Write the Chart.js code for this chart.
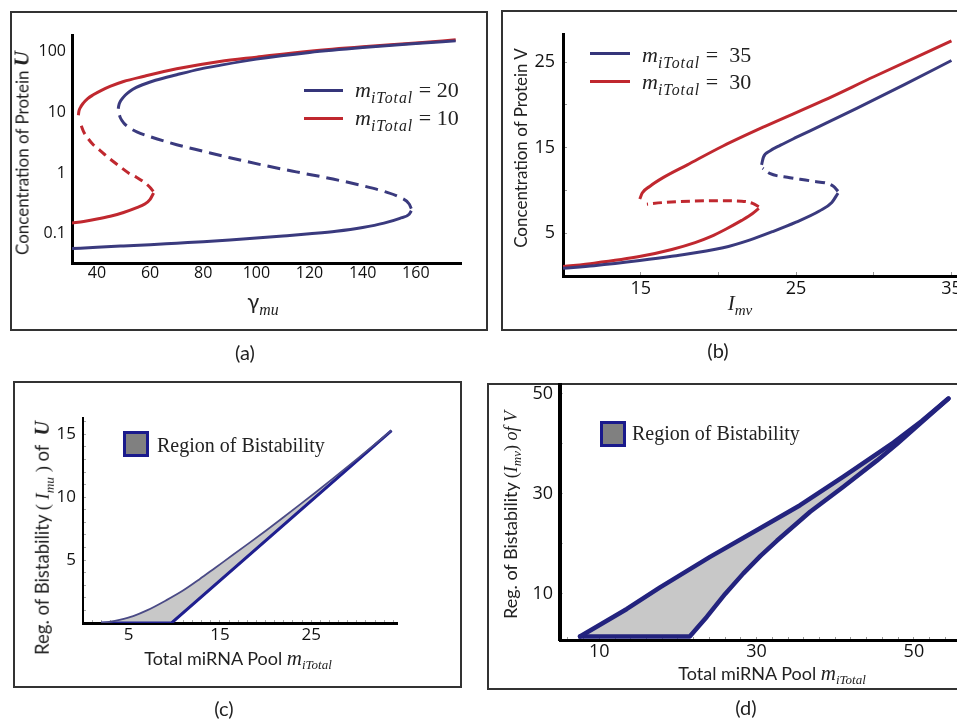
<!DOCTYPE html>
<html><head><meta charset="utf-8">
<script src="https://cdn.jsdelivr.net/npm/chart.js@4.4.1/dist/chart.umd.min.js"></script>
<style>
html,body{margin:0;padding:0;width:957px;height:720px;overflow:hidden;background:#fff;position:relative;}
.box{position:absolute;border:2px solid #333;box-sizing:border-box;}
canvas{position:absolute;}
.t{position:absolute;white-space:nowrap;color:#222;font-family:Lato,'Open Sans',sans-serif;line-height:1;}
.c{transform:translate(-50%,-50%);}
.r{transform:translate(-50%,-50%) rotate(-90deg);}
.l{transform:translate(0,-50%);}
.s{font-family:'Liberation Serif','DejaVu Serif',serif;}
sub{font-size:72%;vertical-align:-0.35em;line-height:0;}
.ln{position:absolute;height:3px;}
.sq{position:absolute;width:26px;height:26px;box-sizing:border-box;background:#808080;border:3px solid #1a1a8c;}
</style></head><body>

<div class="box" style="left:10px;top:11px;width:478px;height:320px"></div>
<div class="box" style="left:501px;top:10px;width:470px;height:321px"></div>
<div class="box" style="left:13px;top:381px;width:449px;height:307px"></div>
<div class="box" style="left:487px;top:383px;width:484px;height:307px"></div>

<canvas id="ca"></canvas>
<canvas id="cb"></canvas>
<canvas id="cc"></canvas>
<canvas id="cd"></canvas>

<!-- panel (a) texts -->
<div class="t r" style="left:22px;top:153px;font-size:17px">Concentration of Protein <b class="s" style="font-size:21px"><i>U</i></b></div>
<div class="t c" style="left:263px;top:301px;font-size:22px">γ<sub class="s"><i>mu</i></sub></div>
<div class="ln" style="left:304px;top:89px;width:39px;background:#35357a"></div>
<div class="ln" style="left:304px;top:117px;width:39px;background:#c0282f"></div>
<div class="t l s" style="left:355px;top:90px;font-size:22px"><i>m</i><sub><i style="letter-spacing:1px">iTotal</i></sub> = 20</div>
<div class="t l s" style="left:355px;top:118px;font-size:22px"><i>m</i><sub><i style="letter-spacing:1px">iTotal</i></sub> = 10</div>
<div class="t c" style="left:245px;top:352px;font-size:20px">(a)</div>

<!-- panel (b) texts -->
<div class="t r" style="left:520px;top:148px;font-size:17px">Concentration of Protein V</div>
<div class="t c s" style="left:740px;top:303px;font-size:21px"><i>I</i><sub><i>mv</i></sub></div>
<div class="ln" style="left:590px;top:52px;width:40px;background:#35357a"></div>
<div class="ln" style="left:590px;top:80px;width:40px;background:#c0282f"></div>
<div class="t l s" style="left:642px;top:55px;font-size:22px"><i>m</i><sub><i style="letter-spacing:1px">iTotal</i></sub> = &nbsp;35</div>
<div class="t l s" style="left:642px;top:82px;font-size:22px"><i>m</i><sub><i style="letter-spacing:1px">iTotal</i></sub> = &nbsp;30</div>
<div class="t c" style="left:718px;top:350px;font-size:20px">(b)</div>

<!-- panel (c) texts -->
<div class="t r" style="left:42px;top:538px;font-size:18.5px">Reg. of Bistability <span class="s">( <i>I</i><sub><i>mu</i></sub> )</span> of &nbsp;<b class="s" style="font-size:20px"><i>U</i></b></div>
<div class="t c" style="left:238px;top:658px;font-size:18px">Total miRNA Pool <span class="s"><i style="font-size:21px">m</i><sub><i>iTotal</i></sub></span></div>
<div class="sq" style="left:123px;top:431px"></div>
<div class="t l s" style="left:157px;top:445px;font-size:20px">Region of Bistability</div>
<div class="t c" style="left:224px;top:708px;font-size:20px">(c)</div>

<!-- panel (d) texts -->
<div class="t r" style="left:510px;top:515px;font-size:18px">Reg. of Bistability <span class="s">(<i>I</i><sub><i>mv</i></sub>) <i>of V</i></span></div>
<div class="t c" style="left:772px;top:673px;font-size:18px">Total miRNA Pool <span class="s"><i style="font-size:21px">m</i><sub><i>iTotal</i></sub></span></div>
<div class="sq" style="left:600px;top:421px"></div>
<div class="t l s" style="left:632px;top:433px;font-size:20px">Region of Bistability</div>
<div class="t c" style="left:746px;top:707px;font-size:20px">(d)</div>

<script>
// ---------- Panel (a): Protein U vs gamma_mu (log y) ----------
const aXTicks = [40, 60, 80, 100, 120, 140, 160];
const aYTicks = [0.1, 1, 10, 100];
const aRed10Low  = [[30.6,0.15],[35,0.16],[40,0.175],[45,0.195],[50,0.225],[55,0.27],[58,0.31],[60,0.37],[61.3,0.47]];
const aRed10Mid  = [[61.2,0.5],[60,0.58],[57.5,0.72],[55,0.85],[52,1.0],[48,1.35],[44,1.85],[41,2.4],[38.6,2.95],[36.5,3.8],[35,4.8],[34.2,5.9],[33.4,7.3]];
const aRed10High = [[33.0,9.0],[33.2,10.5],[33.8,12.2],[34.85,14.3],[36.5,17],[38.6,19.6],[41.5,23],[44.9,26.9],[50,32.5],[57.4,39.3],[70,52.6],[86.2,69.5],[100,82],[120,103],[140,122],[160,140],[175,158]];
const aBlue20Low  = [[30.6,0.057],[40,0.06],[50,0.063],[60,0.066],[70,0.07],[80,0.074],[90,0.079],[100,0.085],[110,0.092],[120,0.1],[130,0.11],[140,0.127],[148,0.15],[154,0.18],[157.5,0.21],[158.3,0.24]];
const aBlue20Mid  = [[158.3,0.26],[157.5,0.31],[154,0.4],[148,0.5],[140,0.62],[128.8,0.8],[115,1.05],[103.8,1.32],[90,1.8],[80,2.3],[70,2.95],[60,4.0],[55,4.8],[52,5.7],[50,6.8],[48.8,8.2],[48.2,9.8]];
const aBlue20High = [[48.0,11.5],[48.2,13.0],[48.7,15.0],[49.5,17.0],[50.7,19.5],[52.4,22.5],[54.8,26.0],[57.4,29.0],[62,34],[70,42],[78.7,52],[86.2,60],[100,76],[120,98],[140,118],[160,137],[175,152]];

// ---------- Panel (b): Protein V vs I_mv ----------
const bXLabels = [15, 25, 35];
const bYLabels = [5, 15, 25];
const bRed30Low  = [[10,1.1],[12,1.5],[15,2.3],[17,3.1],[18.5,3.9],[19.5,4.6],[20.5,5.5],[21.5,6.5],[22.2,7.3],[22.6,7.9]];
const bRed30Mid  = [[22.6,8.1],[22.2,8.5],[21.5,8.75],[20,8.8],[18.2,8.75],[16.5,8.6],[15.4,8.4]];
const bRed30High = [[14.94,9.0],[15.1,9.7],[15.6,10.5],[16.44,11.5],[18,13.0],[20.3,15.2],[23,17.5],[26.74,20.5],[30,23.3],[35,27.5]];
const bBlue35Low  = [[10,0.9],[12,1.2],[14.94,1.8],[17,2.3],[20.3,3.3],[22,4.2],[23.5,5.2],[25,6.3],[26.5,7.6],[27.3,8.6],[27.7,9.7]];
const bBlue35Mid  = [[27.7,9.9],[27.4,10.5],[26,11.1],[24.6,11.5],[23.3,12.0],[22.85,12.6]];
const bBlue35High = [[22.78,13.0],[22.9,13.9],[23.3,14.6],[24,15.3],[25,16.2],[26.5,17.5],[28.9,19.6],[32,22.4],[35,25.2]];

// ---------- Panel (c): region of bistability of U ----------
const cXLabels = [5, 15, 25];
const cYLabels = [5, 10, 15];
const cUpper = [[2,0],[3,0.1],[4,0.25],[5.5,0.55],[7,1.0],[9.1,1.8],[11,2.6],[12.8,3.5],[14.5,4.4],[16.4,5.4],[18,6.25],[20.1,7.38],[22,8.43],[23.75,9.41],[25.5,10.4],[27.4,11.5],[30,13.03],[32,14.23],[33.8,15.32]];
const cLower = [[2,0],[9.7,0],[33.8,15.3]];

// ---------- Panel (d): region of bistability of V ----------
const dXLabels = [10, 30, 50];
const dYLabels = [10, 30, 50];
const dUpper = [[7.54,1.5],[13.5,7.0],[17.72,11.3],[24.08,17.4],[30.45,23.1],[35.53,27.7],[41.04,33.4],[47.4,40.2],[51,44.5],[54.4,49.0]];
const dLower = [[7.54,1.5],[21.5,1.5],[22.6,3.5],[23.66,5.4],[26,10],[28.32,14.1],[30.5,17.6],[32.57,20.6],[36.81,26.4],[41.04,31.4],[45.29,36.6],[47.84,39.9],[51,44.3],[54.4,49.0]];

const BLUE = '#3a3a7e', RED = '#c0282f';
const pts = a => a.map(p => ({x: p[0], y: p[1]}));

function place(id, L, T, R, B, p) {
  const c = document.getElementById(id);
  const w = R - L + p[0] + p[2], h = B - T + p[1] + p[3];
  c.width = w; c.height = h;
  c.style.left = (L - p[0]) + 'px'; c.style.top = (T - p[1]) + 'px';
  c.style.width = w + 'px'; c.style.height = h + 'px';
  return c;
}
function line(data, color, width, dash, extra) {
  return Object.assign({data: pts(data), borderColor: color, borderWidth: width, borderDash: dash || [],
    pointRadius: 0, cubicInterpolationMode: 'monotone', fill: false, borderCapStyle: 'butt'}, extra || {});
}
function baseOpts(p) {
  return {
    responsive: false, animation: false, devicePixelRatio: 1,
    layout: {padding: {left: 0, top: p[1], right: p[2], bottom: 0}},
    plugins: {legend: {display: false}, tooltip: {enabled: false}, filler: {drawTime: 'beforeDatasetsDraw'}},
    elements: {line: {borderJoinStyle: 'round'}}
  };
}
const inRange = s => { s.ticks = s.ticks.filter(t => t.value >= s.min - 1e-9 && t.value <= s.max + 1e-9); };
const tickFont = sz => ({family: '"Open Sans", Lato, sans-serif', size: sz});

// ---- chart (a)
(function () {
  const p = [60, 30, 25, 30];
  const c = place('ca', 72, 35, 461, 263, p);
  const o = baseOpts(p);
  o.scales = {
    x: {type: 'linear', min: 30.6, max: 177,
      afterFit: s => { s.height = p[3]; },
      afterBuildTicks: s => { s.ticks = aXTicks.map(v => ({value: v})); },
      border: {display: true, color: '#000', width: 3},
      grid: {display: false, drawTicks: false},
      ticks: {font: tickFont(16), color: '#111', padding: 1, maxRotation: 0}},
    y: {type: 'logarithmic', min: 0.033, max: 190,
      afterFit: s => { s.width = p[0]; },
      afterBuildTicks: s => { s.ticks = aYTicks.map(v => ({value: v})); },
      border: {display: true, color: '#000', width: 3},
      grid: {display: false, drawTicks: false},
      ticks: {font: tickFont(16), color: '#111', padding: 6, callback: v => String(v)}}
  };
  new Chart(c, {type: 'line', data: {datasets: [
    line(aBlue20Low, BLUE, 3), line(aBlue20Mid, BLUE, 3, [13, 7]), line(aBlue20High, BLUE, 3),
    line(aRed10Low, RED, 3), line(aRed10Mid, RED, 3, [9, 6]), line(aRed10High, RED, 3)
  ]}, options: o});
})();

// ---- chart (b)
(function () {
  const p = [60, 30, 20, 35];
  const c = place('cb', 563, 34, 967, 276, p);
  const o = baseOpts(p);
  o.scales = {
    x: {type: 'linear', min: 10, max: 36,
      afterFit: s => { s.height = p[3]; }, afterBuildTicks: inRange,
      border: {display: true, color: '#000', width: 3},
      grid: {drawOnChartArea: false, drawTicks: true, tickLength: -4, color: '#999'},
      ticks: {stepSize: 5, includeBounds: false, font: tickFont(18), color: '#111', padding: 6, maxRotation: 0,
        callback: v => bXLabels.includes(v) ? String(v) : ''}},
    y: {type: 'linear', min: 0, max: 28.3,
      afterFit: s => { s.width = p[0]; }, afterBuildTicks: inRange,
      border: {display: true, color: '#000', width: 3},
      grid: {drawOnChartArea: false, drawTicks: true, tickLength: -4, color: '#999'},
      ticks: {stepSize: 5, includeBounds: false, font: tickFont(18), color: '#111', padding: 12,
        callback: v => bYLabels.includes(v) ? String(v) : ''}}
  };
  new Chart(c, {type: 'line', data: {datasets: [
    line(bBlue35Low, BLUE, 3), line(bBlue35Mid, BLUE, 3, [10, 6]), line(bBlue35High, BLUE, 3),
    line(bRed30Low, RED, 3), line(bRed30Mid, RED, 3, [9, 5]), line(bRed30High, RED, 3)
  ]}, options: o});
})();

// ---- chart (c)
(function () {
  const p = [60, 30, 20, 32];
  const c = place('cc', 83, 418, 397, 623, p);
  const o = baseOpts(p);
  o.scales = {
    x: {type: 'linear', min: 0, max: 34.4,
      afterFit: s => { s.height = p[3]; }, afterBuildTicks: inRange,
      border: {display: true, color: '#000', width: 3},
      grid: {drawOnChartArea: false, drawTicks: true, tickLength: -3, color: '#aaa'},
      ticks: {stepSize: 1, includeBounds: false, autoSkip: false, font: tickFont(17), color: '#111', padding: 5, maxRotation: 0,
        callback: v => cXLabels.includes(v) ? String(v) : ''}},
    y: {type: 'linear', min: 0, max: 16.3,
      afterFit: s => { s.width = p[0]; }, afterBuildTicks: inRange,
      border: {display: true, color: '#000', width: 2},
      grid: {drawOnChartArea: false, drawTicks: true, tickLength: -3, color: '#aaa'},
      ticks: {stepSize: 1, includeBounds: false, autoSkip: false, font: tickFont(17), color: '#111', padding: 10,
        callback: v => cYLabels.includes(v) ? String(v) : ''}}
  };
  new Chart(c, {type: 'line', data: {datasets: [
    line(cUpper, '#4a4a86', 1.8, [], {fill: '+1', backgroundColor: '#c8c8c8'}),
    line(cLower, '#1f1f8f', 3, [], {cubicInterpolationMode: 'default', tension: 0})
  ]}, options: o});
})();

// ---- chart (d)
(function () {
  const p = [60, 30, 20, 32];
  const c = place('cd', 560, 385, 965, 640, p);
  const o = baseOpts(p);
  o.scales = {
    x: {type: 'linear', min: 5, max: 56.5,
      afterFit: s => { s.height = p[3]; }, afterBuildTicks: inRange,
      border: {display: true, color: '#000', width: 3},
      grid: {drawOnChartArea: false, drawTicks: true, tickLength: -3, color: '#999'},
      ticks: {stepSize: 2, includeBounds: false, autoSkip: false, font: tickFont(18), color: '#111', padding: 4, maxRotation: 0,
        callback: v => dXLabels.includes(v) ? String(v) : ''}},
    y: {type: 'linear', min: 0.8, max: 51.7,
      afterFit: s => { s.width = p[0]; }, afterBuildTicks: inRange,
      border: {display: true, color: '#000', width: 4},
      grid: {drawOnChartArea: false, drawTicks: true, tickLength: -3, color: '#bbb'},
      ticks: {stepSize: 10, includeBounds: false, font: tickFont(18), color: '#111', padding: 10,
        callback: v => dYLabels.includes(v) ? String(v) : ''}}
  };
  new Chart(c, {type: 'line', data: {datasets: [
    line(dUpper, '#23237e', 4.5, [], {fill: '+1', backgroundColor: '#c8c8c8', borderCapStyle: 'round', cubicInterpolationMode: 'default', tension: 0}),
    line(dLower, '#23237e', 4.5, [], {borderCapStyle: 'round', cubicInterpolationMode: 'default', tension: 0})
  ]}, options: o});
})();
</script>
</body></html>
